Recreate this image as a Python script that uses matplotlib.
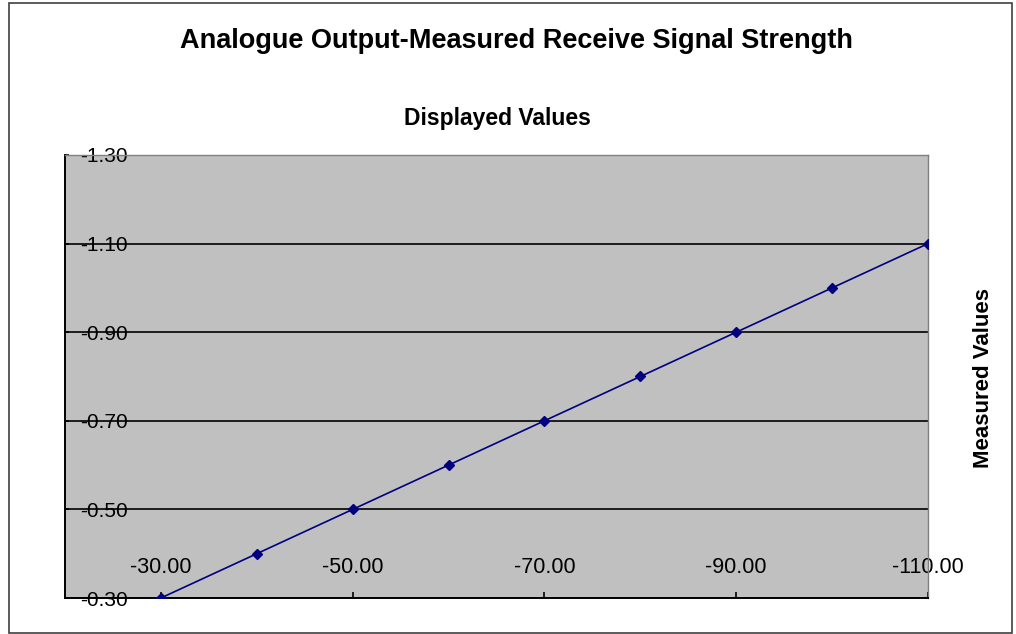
import matplotlib
matplotlib.use("Agg")
import matplotlib.pyplot as plt
from matplotlib.patches import Rectangle

# --- Data ---
displayed = [-30, -40, -50, -60, -70, -80, -90, -100, -110]
measured = [-0.30, -0.40, -0.50, -0.60, -0.70, -0.80, -0.90, -1.00, -1.10]
x_ticks = [-30, -50, -70, -90, -110]
y_ticks = [-1.30, -1.10, -0.90, -0.70, -0.50, -0.30]

plt.rcParams['font.family'] = ['Liberation Sans', 'DejaVu Sans']

fig = plt.figure(figsize=(10.16, 6.34), dpi=100)
ax = fig.add_axes([65 / 1016, 36 / 634, 863 / 1016, 443 / 634])
ax.set_facecolor("#c0c0c0")

ax.plot(displayed, measured, color="#000080", lw=1.2, marker="D", ms=5.5,
        zorder=3)

# both axes run "backwards", like the Excel original
ax.set_xlim(-20, -110)
ax.set_ylim(-0.30, -1.30)

ax.set_xticks(x_ticks)
ax.set_xticklabels([f"{v:.2f}" for v in x_ticks])
ax.set_yticks(y_ticks)
ax.set_yticklabels([f"{v:.2f}" for v in y_ticks])
for lab in ax.get_yticklabels():
    lab.set_horizontalalignment("left")

ax.tick_params(axis="x", direction="in", length=4, width=1.2, pad=-29.5,
               labelsize=15.5, colors="black")
ax.tick_params(axis="y", direction="in", length=3, width=1.2, pad=-11,
               labelsize=15, colors="black")

ax.grid(axis="y", color="black", lw=1.2)
ax.set_axisbelow(True)

for side in ["top", "right"]:
    ax.spines[side].set_color("#808080")
    ax.spines[side].set_linewidth(1.0)
for side in ["left", "bottom"]:
    ax.spines[side].set_color("black")
    ax.spines[side].set_linewidth(1.4)

# axis titles: x title above the plot, y title on the right
ax.set_xlabel("Displayed Values", fontsize=16.5, fontweight="bold")
ax.xaxis.set_label_coords(0.5006, 1.108)
ax.set_ylabel("Measured Values", fontsize=16, fontweight="bold")
ax.yaxis.set_label_coords(1.0765, 0.4966)

fig.text(516 / 1016, 0.935, "Analogue Output-Measured Receive Signal Strength",
         ha="center", va="center", fontsize=19.5, fontweight="bold")

# chart border
fig.patches.append(Rectangle((9 / 1016, 1.5 / 634), 1003 / 1016, 630 / 634,
                             transform=fig.transFigure, fill=False,
                             edgecolor="#404040", lw=1.2))

fig.savefig("out.png", dpi=100)
